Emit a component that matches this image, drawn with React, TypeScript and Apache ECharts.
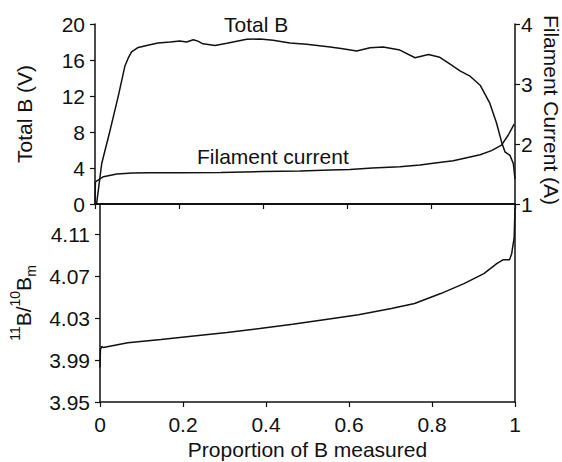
import React, { useEffect, useRef } from "react";
import * as echarts from "echarts";

const totalBX = [0, 0.004, 0.016, 0.036, 0.055, 0.071, 0.079, 0.087, 0.103, 0.131, 0.15, 0.179, 0.202, 0.218, 0.234, 0.245, 0.257, 0.286, 0.314, 0.361, 0.393, 0.424, 0.464, 0.504, 0.56, 0.59, 0.623, 0.655, 0.686, 0.726, 0.762, 0.794, 0.821, 0.85, 0.869, 0.893, 0.917, 0.94, 0.956, 0.968, 0.976, 0.988, 0.996, 1.0];
const totalBV = [0, 0.1, 4.5, 8.2, 11.9, 15.3, 16.2, 16.9, 17.4, 17.7, 17.9, 18.0, 18.1, 18.0, 18.25, 18.1, 17.8, 17.6, 17.85, 18.3, 18.33, 18.2, 17.9, 17.75, 17.45, 17.25, 17.0, 17.35, 17.45, 17.1, 16.25, 16.6, 16.3, 15.4, 14.8, 14.2, 13.2, 11.2, 9.0, 6.9, 5.8, 5.4, 4.5, 2.8];

const filX = [0, 0.001, 0.02, 0.052, 0.09, 0.131, 0.2, 0.3, 0.4, 0.488, 0.56, 0.607, 0.66, 0.726, 0.774, 0.805, 0.853, 0.917, 0.944, 0.968, 0.984, 0.998];
const filA = [1.0, 1.37, 1.455, 1.5, 1.515, 1.52, 1.522, 1.527, 1.54, 1.55, 1.565, 1.575, 1.6, 1.62, 1.65, 1.68, 1.72, 1.82, 1.89, 1.98, 2.15, 2.33];

const ratioX = [0, 0.001, 0.004, 0.008, 0.067, 0.147, 0.226, 0.306, 0.385, 0.464, 0.544, 0.623, 0.702, 0.758, 0.821, 0.877, 0.925, 0.956, 0.972, 0.987, 0.992, 0.998, 1.0];
const ratioV = [3.983, 4.0, 4.003, 4.002, 4.0065, 4.0097, 4.0131, 4.0164, 4.0202, 4.0243, 4.0288, 4.0332, 4.0392, 4.044, 4.0535, 4.063, 4.0726, 4.082, 4.0859, 4.0859, 4.0916, 4.107, 4.135];

const xTicks = [0, 0.2, 0.4, 0.6, 0.8, 1];
const leftTopTicks = [0, 4, 8, 12, 16, 20];
const rightTicks = [1, 2, 3, 4];
const ratioTicks = [3.95, 3.99, 4.03, 4.07, 4.11];

const FONT = "'Liberation Sans', Arial, Helvetica, sans-serif";
const INK = "#111";

export default function App() {
  const ref = useRef<HTMLDivElement>(null);
  useEffect(() => {
    if (!ref.current) return;
    const chart = echarts.init(ref.current, null, { renderer: "svg" });
    const axisLine = { show: true, lineStyle: { color: INK, width: 1.5 } };
    const tick = { show: true, inside: false, length: 5, lineStyle: { color: INK, width: 1.2 } };
    const label = { color: INK, fontSize: 21, fontFamily: FONT };
    const pair = (xs: number[], ys: number[]) => xs.map((x, i) => [x, ys[i]]);
    const option: any = {
      animation: false,
      backgroundColor: "#fff",
      grid: [
        { left: 95, right: 47, top: 24, height: 180 },
        { left: 95, right: 47, top: 204, height: 198 },
      ],
      xAxis: [
        {
          type: "value", gridIndex: 0, min: 0, max: 1, interval: 0.2,
          axisLine: { show: true, lineStyle: { color: INK, width: 2 } },
          axisTick: tick, axisLabel: { show: false }, splitLine: { show: false },
        },
        {
          type: "value", gridIndex: 1, min: 0, max: 1, interval: 0.2,
          axisLine, axisTick: tick,
          axisLabel: { ...label, margin: 12, formatter: (v: number) => (xTicks.some((t) => Math.abs(t - v) < 1e-6) ? String(+v.toFixed(1)) : "") },
          splitLine: { show: false },
          name: "Proportion of B measured", nameLocation: "middle", nameGap: 37,
          nameTextStyle: { color: INK, fontSize: 21, fontFamily: FONT },
        },
      ],
      yAxis: [
        {
          type: "value", gridIndex: 0, min: 0, max: 20, interval: 4, position: "left",
          axisLine, axisTick: tick,
          axisLabel: { ...label, margin: 10, formatter: (v: number) => (leftTopTicks.includes(Math.round(v)) ? String(Math.round(v)) : "") },
          splitLine: { show: false },
          name: "Total B (V)", nameLocation: "middle", nameGap: 60,
          nameTextStyle: { color: INK, fontSize: 21, fontFamily: FONT },
        },
        {
          type: "value", gridIndex: 0, min: 1, max: 4, interval: 1, position: "right",
          axisLine, axisTick: tick,
          axisLabel: { ...label, margin: 6, formatter: (v: number) => (rightTicks.includes(Math.round(v)) ? String(Math.round(v)) : "") },
          splitLine: { show: false },
        },
        {
          type: "value", gridIndex: 1, min: 3.95, max: 4.139, interval: 0.04, position: "left",
          axisLine, axisTick: tick,
          axisLabel: {
            ...label, margin: 10, showMaxLabel: false,
            formatter: (v: number) => {
              const hit = ratioTicks.find((t) => Math.abs(t - v) < 1e-4);
              return hit === undefined ? "" : hit.toFixed(2);
            },
          },
          splitLine: { show: false },
          name: "{sup|11}{b|B/}{sup|10}{b|B}{sub|m}", nameLocation: "middle", nameGap: 62,
          nameTextStyle: {
            color: INK, fontSize: 21, fontFamily: FONT,
            rich: {
              b: { fontSize: 21, fontFamily: FONT, color: INK, lineHeight: 30, verticalAlign: "middle" },
              sup: { fontSize: 14, fontFamily: FONT, color: INK, lineHeight: 30, verticalAlign: "top" },
              sub: { fontSize: 14, fontFamily: FONT, color: INK, lineHeight: 30, verticalAlign: "bottom" },
            },
          },
        },
        {
          type: "value", gridIndex: 1, min: 3.95, max: 4.139, position: "right",
          axisLine, axisTick: { show: false }, axisLabel: { show: false }, splitLine: { show: false },
        },
      ],
      graphic: [
        { type: "text", left: 224, top: 14, style: { text: "Total B", fill: INK, font: `21px ${FONT}` } },
        { type: "text", left: 197, top: 146, style: { text: "Filament current", fill: INK, font: `21px ${FONT}` } },
        {
          type: "text", x: 551, y: 110, rotation: -Math.PI / 2,
          style: { text: "Filament Current (A)", fill: INK, font: `21px ${FONT}`, align: "center", verticalAlign: "middle" },
        },
      ],
      series: [
        {
          type: "line", xAxisIndex: 0, yAxisIndex: 0, data: pair(totalBX, totalBV),
          showSymbol: false, lineStyle: { color: INK, width: 1.5 }, smooth: false,
        },
        {
          type: "line", xAxisIndex: 0, yAxisIndex: 1, data: pair(filX, filA),
          showSymbol: false, lineStyle: { color: INK, width: 1.5 },
        },
        {
          type: "line", xAxisIndex: 1, yAxisIndex: 2, data: pair(ratioX, ratioV),
          showSymbol: false, lineStyle: { color: INK, width: 1.5 },
        },
      ],
    };
    chart.setOption(option);
    return () => chart.dispose();
  }, []);
  return <div ref={ref} style={{ width: 562, height: 462, position: "absolute", left: 0, top: 0 }} />;
}
